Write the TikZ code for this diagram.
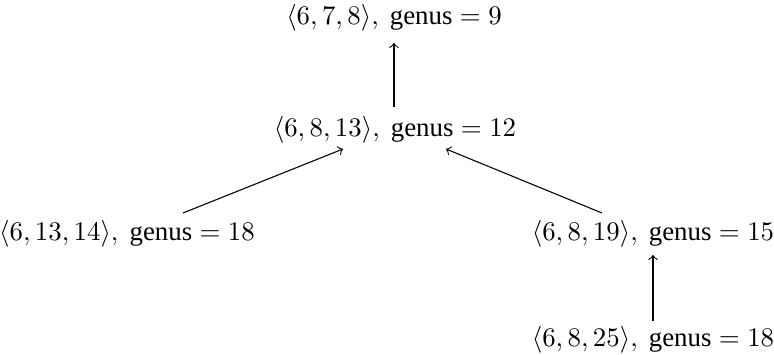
\documentclass[tikz,border=0pt]{standalone}
\usepackage{amsmath}
\usepackage[no-math]{fontspec}
\setmainfont{Liberation Serif}
\usepackage{tikz}
\usetikzlibrary{calc}

\begin{document}
\begin{tikzpicture}[x=0.3726pt, y=-0.3726pt, semi/.style={inner sep=0pt, anchor=base, font=\normalsize}]
    \useasboundingbox (0,0) rectangle (774,355);
    % Semigroups
    \node[semi] (top) at (394,25) {$\langle 6,7,8\rangle,\ \text{genus}=9$};
    \node[semi] (mid) at (395,136) {$\langle 6,8,13\rangle,\ \text{genus}=12$};
    \node[semi] (lft) at (127,240) {$\langle 6,13,14\rangle,\ \text{genus}=18$};
    \node[semi] (rgt) at (653,240) {$\langle 6,8,19\rangle,\ \text{genus}=15$};
    \node[semi] (bot) at (653,346) {$\langle 6,8,25\rangle,\ \text{genus}=18$};
    % Arrows
    \draw[->] ($(mid.base)+(-1,-29)$) -- ($(top.base)+(0,18)$);
    \draw[->] ($(lft.base)+(56,-27)$) -- ($(mid.base)+(-52,13)$);
    \draw[->] ($(rgt.base)+(-51,-27)$) -- ($(mid.base)+(51,13)$);
    \draw[->] ($(bot.base)+(0,-25)$) -- ($(rgt.base)+(0,15)$);
\end{tikzpicture}
\end{document}
